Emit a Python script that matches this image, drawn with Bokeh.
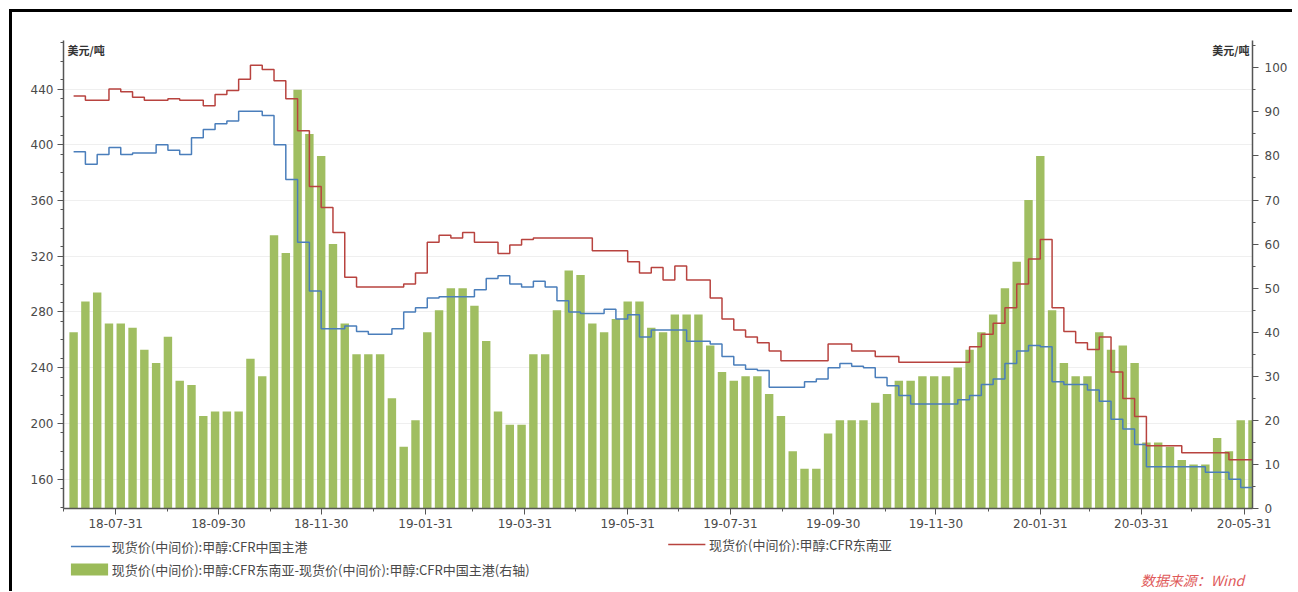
import pandas as pd
from bokeh.plotting import figure
from bokeh.layouts import column
from bokeh.models import (Range1d, LinearAxis, FixedTicker, DatetimeTickFormatter,
                          Label, ColumnDataSource)
from bokeh.core.properties import value
from bokeh.embed import file_html
from bokeh.resources import INLINE

# ---------------- data (weekly) ----------------
first_week = "2018-07-06"

cfr_china = [395, 386, 393, 398, 393, 394, 394, 400, 396, 393,
             405, 411, 415, 417, 424, 424, 421, 400, 375, 330,
             295, 268, 268, 270, 266, 264, 264, 268, 280, 283,
             290, 291, 291, 291, 296, 304, 306, 300, 298, 302,
             298, 288, 280, 279, 279, 282, 275, 278, 262, 267,
             267, 267, 259, 259, 257, 248, 242, 239, 238, 226,
             226, 226, 230, 232, 240, 243, 241, 240, 233, 227,
             220, 214, 214, 214, 214, 217, 220, 228, 232, 243,
             252, 256, 255, 230, 228, 228, 224, 216, 203, 196,
             185, 169, 169, 169, 169, 169, 165, 165, 160, 154,
             154]

cfr_sea = [435, 432, 432, 440, 438, 434, 432, 432, 433, 432,
           432, 428, 436, 439, 447, 457, 454, 446, 433, 410,
           370, 355, 337, 305, 298, 298, 298, 298, 300, 308,
           330, 335, 333, 337, 330, 330, 322, 328, 332, 333,
           333, 333, 333, 333, 324, 324, 324, 316, 308, 312,
           303, 313, 303, 303, 290, 275, 267, 262, 258, 252,
           245, 245, 245, 245, 257, 257, 252, 252, 248, 248,
           244, 244, 244, 244, 244, 244, 255, 264, 272, 283,
           300, 318, 332, 283, 266, 258, 253, 262, 237, 218,
           205, 184, 184, 184, 179, 179, 179, 179, 174, 174,
           174]

spread = [40, 47, 49, 42, 42, 41, 36, 33, 39, 29,
          28, 21, 22, 22, 22, 34, 30, 62, 58, 95,
          85, 80, 60, 42, 35, 35, 35, 25, 14, 20,
          40, 45, 50, 50, 46, 38, 22, 19, 19, 35,
          35, 45, 54, 53, 42, 40, 43, 47, 47, 41,
          40, 44, 44, 44, 37, 31, 29, 30, 30, 26,
          21, 13, 9, 9, 17, 20, 20, 20, 24, 26,
          29, 29, 30, 30, 30, 32, 36, 40, 44, 50,
          56, 70, 80, 45, 33, 30, 30, 40, 36, 37,
          33, 15, 15, 14, 11, 10, 10, 16, 13, 20,
          20]

major_dates = ["2018-07-31", "2018-09-30", "2018-11-30", "2019-01-31",
               "2019-03-31", "2019-05-31", "2019-07-31", "2019-09-30",
               "2019-11-30", "2020-01-31", "2020-03-31", "2020-05-31"]
minor_dates = ["2018-06-30", "2018-08-31", "2018-10-31", "2018-12-31",
               "2019-02-28", "2019-04-30", "2019-06-30", "2019-08-31",
               "2019-10-31", "2019-12-31", "2020-02-29", "2020-04-30"]
left_ticks = [160, 200, 240, 280, 320, 360, 400, 440]
right_ticks = [0, 10, 20, 30, 40, 50, 60, 70, 80, 90, 100]

name_china = "现货价(中间价):甲醇:CFR中国主港"
name_sea = "现货价(中间价):甲醇:CFR东南亚"
name_spread = "现货价(中间价):甲醇:CFR东南亚-现货价(中间价):甲醇:CFR中国主港(右轴)"
unit = "美元/吨"
source_text = "数据来源：Wind"

GREEN = "#9BBB59"
BLUE = "#4A7EBB"
RED = "#B8433F"
AXIS = "#555555"
TXT = "#4a4a4a"
CJK = "Noto Sans CJK SC"

# ---------------- main chart ----------------
dates = pd.date_range(first_week, periods=len(cfr_china), freq="7D")
src = ColumnDataSource(dict(date=dates, china=cfr_china, sea=cfr_sea, spread=spread))

def ms(s):
    return pd.Timestamp(s).value // 10**6

W = 1280
p = figure(width=W, height=523, x_axis_type="datetime",
           output_backend="svg", toolbar_location=None,
           x_range=Range1d(pd.Timestamp("2018-06-30"), pd.Timestamp("2020-06-05")),
           y_range=Range1d(139, 474.8),
           min_border_left=51, min_border_right=40, min_border_top=28, min_border_bottom=27)
p.extra_y_ranges = {"right": Range1d(0, 106.2)}
p.outline_line_color = None
p.background_fill_color = "white"
p.border_fill_color = "white"

bars = p.vbar(x="date", top="spread", bottom=0, width=5.0 * 86400000, source=src,
              y_range_name="right", fill_color=GREEN, fill_alpha=0.95, line_color=None)
l_china = p.step(x="date", y="china", source=src, mode="after", line_color=BLUE, line_width=1.5)
l_sea = p.step(x="date", y="sea", source=src, mode="after", line_color=RED, line_width=1.5)

xa = p.xaxis[0]
xa.ticker = FixedTicker(ticks=[ms(d) for d in major_dates], minor_ticks=[ms(d) for d in minor_dates])
fmt = "%y-%m-%d"
xa.formatter = DatetimeTickFormatter(milliseconds=fmt, seconds=fmt, minsec=fmt, minutes=fmt,
                                     hourmin=fmt, hours=fmt, days=fmt, months=fmt, years=fmt)

ya = p.yaxis[0]
ya.ticker = FixedTicker(ticks=left_ticks, minor_ticks=[140 + i * 40 / 3 for i in range(26)])

ra = LinearAxis(y_range_name="right",
                ticker=FixedTicker(ticks=right_ticks, minor_ticks=list(range(0, 106, 5))))
p.add_layout(ra, "right")

for ax in [xa, ya, ra]:
    ax.axis_line_color = AXIS
    ax.axis_line_width = 1.5
    ax.major_tick_line_color = AXIS
    ax.minor_tick_line_color = AXIS
    ax.major_tick_in = 0
    ax.major_tick_out = 6
    ax.minor_tick_in = 0
    ax.minor_tick_out = 3
    ax.major_label_text_font = "DejaVu Sans"
    ax.major_label_text_font_size = "12px"
    ax.major_label_text_color = TXT
    ax.major_label_standoff = 4
ra.major_label_standoff = 6

p.xgrid.visible = False
p.ygrid.grid_line_color = "#efefef"
p.ygrid.grid_line_width = 1

frame_h = 523 - 28 - 27
p.add_layout(Label(x=4, y=frame_h - 1, x_units="screen", y_units="screen", text=unit,
                   text_font=CJK, text_font_size="11px", text_color="#333333",
                   text_font_style="bold", text_baseline="top", text_align="left"))
p.add_layout(Label(x=W - 51 - 40 - 3, y=frame_h - 1, x_units="screen", y_units="screen", text=unit,
                   text_font=CJK, text_font_size="11px", text_color="#333333",
                   text_font_style="bold", text_baseline="top", text_align="right"))

# ---------------- legend / source strip ----------------
H2 = 56
q = figure(width=W, height=H2, output_backend="svg", toolbar_location=None,
           x_range=Range1d(0, W), y_range=Range1d(H2, 0),
           x_axis_location=None, y_axis_location=None, min_border=0)
q.outline_line_color = None
q.grid.visible = False
q.background_fill_color = "white"
q.border_fill_color = "white"

q.segment(x0=[8], y0=[11], x1=[50], y1=[11], line_color=BLUE, line_width=1.5)
q.segment(x0=[651], y0=[9], x1=[691], y1=[9], line_color=RED, line_width=1.5)
q.rect(x=[28], y=[34], width=40, height=12, fill_color=GREEN, line_color=None)
q.text(x=[52, 52, 695], y=[11, 34, 9], text=[name_china, name_spread, name_sea],
       text_font=value(CJK), text_font_size="13px", text_color=TXT,
       text_baseline="middle", text_align="left")
q.text(x=[1271], y=[44], text=[source_text], text_font=value(CJK), text_font_size="14px",
       text_color="#E05A5A", text_font_style="italic", text_baseline="middle", text_align="right")

layout = column(p, q, spacing=0)
layout.margin = (9, 0, 0, 9)
layout.styles = {"border-top": "3px solid black", "border-left": "3px solid black"}

open("out.html", "w").write(file_html(layout, INLINE))
